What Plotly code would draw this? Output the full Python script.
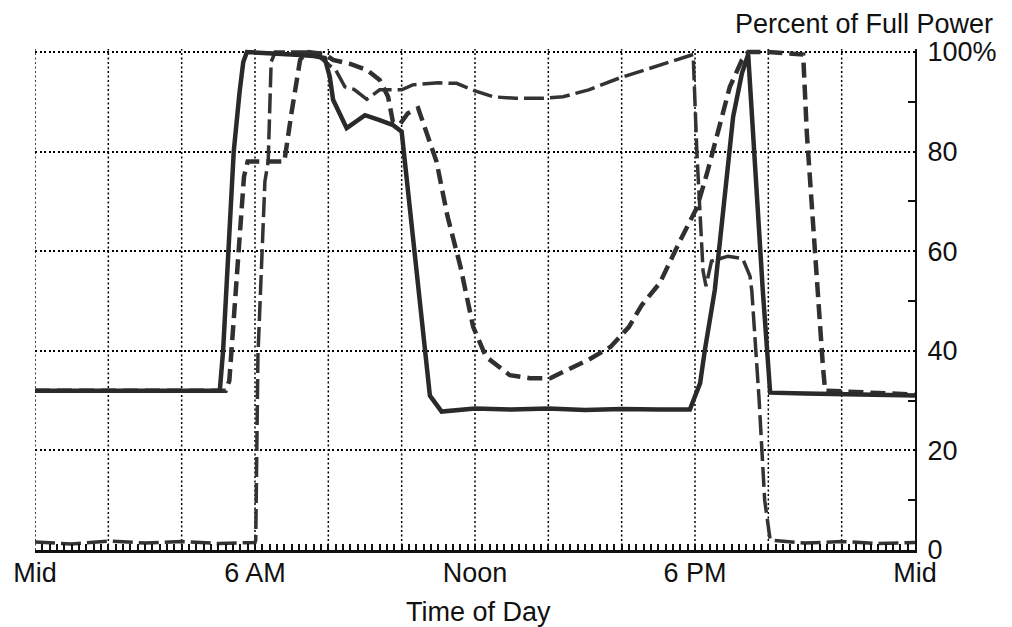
import plotly.graph_objects as go

# ---- data (hours of day, percent of full power) ----
solid_hours = [0, 2, 4, 5.04, 5.13, 5.28, 5.42, 5.58, 5.68, 5.78, 6.5, 7.23, 7.6, 7.9, 8.04, 8.13,
               8.5, 9.0, 9.4, 9.77, 10.0, 10.5, 10.77, 11.09, 12, 13, 14, 15, 16, 17, 17.86,
               18.14, 18.27, 18.54, 18.77, 19.04, 19.28, 19.45, 19.85, 20.05, 21, 22.5, 24]
solid_pct = [32, 32, 32, 32, 40, 60, 80, 92, 98, 100, 99.8, 99.4, 99.2, 98.8, 95, 90.4,
             84.7, 87.3, 86.3, 85.3, 84, 50, 31, 27.8, 28.4, 28.2, 28.4, 28.1, 28.3, 28.2, 28.2,
             33.5, 40.2, 52.2, 68.9, 87, 95.7, 99.5, 52, 31.6, 31.4, 31.2, 31.0]

dashed_hours = [0, 5.2, 5.3, 5.5, 5.7, 5.8, 6.8, 7.0, 7.23, 7.4, 7.9, 8.13, 8.6, 9.05, 9.4, 9.63,
                9.76, 9.95, 10.17, 10.45, 10.95, 11.25, 11.6, 11.95, 12.3, 12.95, 13.5, 14.05,
                14.6, 15.1, 15.7, 16.2, 16.55, 17.04, 17.6, 18.05, 18.33, 18.63, 18.95, 19.28,
                19.45, 20.0, 20.95, 21.05, 21.23, 21.49, 21.55, 23, 24]
dashed_pct = [32, 32, 34, 55, 75, 78, 78, 88, 98.4, 100, 99.6, 98.4, 97.6, 96.4, 94.4, 91,
              86, 85.5, 87.7, 88.7, 78, 67, 57, 44.8, 38.8, 35.1, 34.5, 34.5,
              36.5, 38.2, 40.8, 44.8, 49.2, 53.6, 62.2, 68.7, 75.7, 83.7, 93, 98.4,
              100, 100, 99.5, 83.7, 63.6, 36.7, 32, 31.4, 31.2]

dotx_hours = [0, 1, 2, 3, 4, 5, 6.0, 6.02, 6.08, 6.18, 6.27, 6.36, 6.44, 6.55, 7.0, 7.6, 8.0,
              8.2, 8.45, 8.7, 9.05, 9.4, 10.0, 10.3, 11.0, 11.5, 12.0, 12.5, 13.1, 13.85, 14.4,
              15.1, 15.95, 16.8, 17.2, 17.6, 17.95, 18.05, 18.15, 18.22, 18.3, 18.45, 18.9,
              19.3, 19.5, 19.55, 19.75, 19.9, 20.05, 21, 22, 23, 24]
dotx_pct = [1.6, 1.2, 1.8, 1.4, 1.7, 1.3, 1.5, 2, 39, 57, 74, 78, 98, 100, 100, 100, 97.5,
            96.4, 93, 92.5, 90.5, 92.4, 92.4, 93.4, 93.8, 93.7, 92.2, 91, 90.7, 90.7, 91,
            92.4, 94.8, 96.8, 97.8, 98.8, 99.5, 80, 65, 56, 53, 58, 59,
            58.5, 55, 52, 30, 10, 2, 1.4, 1.7, 1.3, 1.5]

grid_hours = [0, 2, 4, 6, 8, 10, 12, 14, 16, 18, 20, 22]
label_hours = [0, 6, 12, 18, 24]
label_hour_text = ["Mid", "6 AM", "Noon", "6 PM", "Mid"]
tick_pct = [0, 20, 40, 60, 80, 100]
tick_pct_labels = ["0", "20", "40", "60", "80", "100%"]
small_tick_step = 0.2
minor_pct = [10, 30, 50, 70, 90]

FONT = "Liberation Sans, Arial, Helvetica, sans-serif"
TOP, LEFT, PLOT_H, PLOT_W = 49, 35, 501, 880
GRID = dict(color="#000000", width=1.5, dash="2px,2.5px")

# hour axis: small ticks every 0.2 h, text only at the labelled hours
n_small = int(round(24 / small_tick_step))
small_ticks = [round(i * small_tick_step, 2) for i in range(n_small + 1)]
label_map = dict(zip(label_hours, label_hour_text))
small_text = [label_map.get(v, "") if abs(v - round(v)) < 1e-9 else "" for v in small_ticks]

fig = go.Figure()
fig.add_trace(go.Scatter(x=dotx_hours, y=dotx_pct, mode="lines",
                         line=dict(color="#333333", width=3.5, dash="20px,6px"),
                         showlegend=False, hoverinfo="skip"))
fig.add_trace(go.Scatter(x=dashed_hours, y=dashed_pct, mode="lines",
                         line=dict(color="#303030", width=4.5, dash="15px,7px"),
                         showlegend=False, hoverinfo="skip"))
fig.add_trace(go.Scatter(x=solid_hours, y=solid_pct, mode="lines",
                         line=dict(color="#2a2a2a", width=4.5),
                         showlegend=False, hoverinfo="skip"))

# dotted vertical grid every two hours
for h in grid_hours:
    fig.add_shape(type="line", xref="x", yref="paper", x0=h, x1=h, y0=0, y1=1,
                  line=GRID, layer="below")

fig.update_layout(
    width=1012, height=627,
    margin=dict(l=LEFT, r=1012 - LEFT - PLOT_W, t=TOP, b=627 - TOP - PLOT_H),
    paper_bgcolor="white", plot_bgcolor="white",
    font=dict(family=FONT, size=27, color="#111111"),
    showlegend=False,
    xaxis=dict(
        range=[0, 24], tickmode="array", tickvals=small_ticks, ticktext=small_text,
        showgrid=False, zeroline=False, showline=True, linecolor="#111111", linewidth=2.5,
        ticks="inside", ticklen=6, tickwidth=2, tickcolor="#111111",
        ticklabelstandoff=-3, layer="above traces",
    ),
    yaxis=dict(
        range=[0, 100.6], side="right", tickmode="array", tickvals=tick_pct, ticktext=tick_pct_labels,
        showgrid=True, gridcolor=GRID["color"], gridwidth=GRID["width"], griddash=GRID["dash"],
        zeroline=False, showline=True, linecolor="#111111", linewidth=2,
        ticks="", ticklabelstandoff=5,
        minor=dict(ticks="inside", ticklen=7, tickwidth=1.5, tickcolor="#111111",
                   tickvals=minor_pct, showgrid=False),
    ),
)
fig.add_annotation(text="Percent of Full Power", xref="paper", yref="paper",
                   x=(995 - LEFT) / PLOT_W, y=1 + (TOP - 24) / PLOT_H, xanchor="right", yanchor="middle",
                   showarrow=False, font=dict(family=FONT, size=27, color="#111111"))
fig.add_annotation(text="Time of Day", xref="paper", yref="paper",
                   x=(478 - LEFT) / PLOT_W, y=-(612 - 550) / PLOT_H, xanchor="center", yanchor="middle",
                   showarrow=False, font=dict(family=FONT, size=27, color="#111111"))

fig.write_html("out.html", config={"displayModeBar": False},
               post_script="document.body.style.margin='0';")
